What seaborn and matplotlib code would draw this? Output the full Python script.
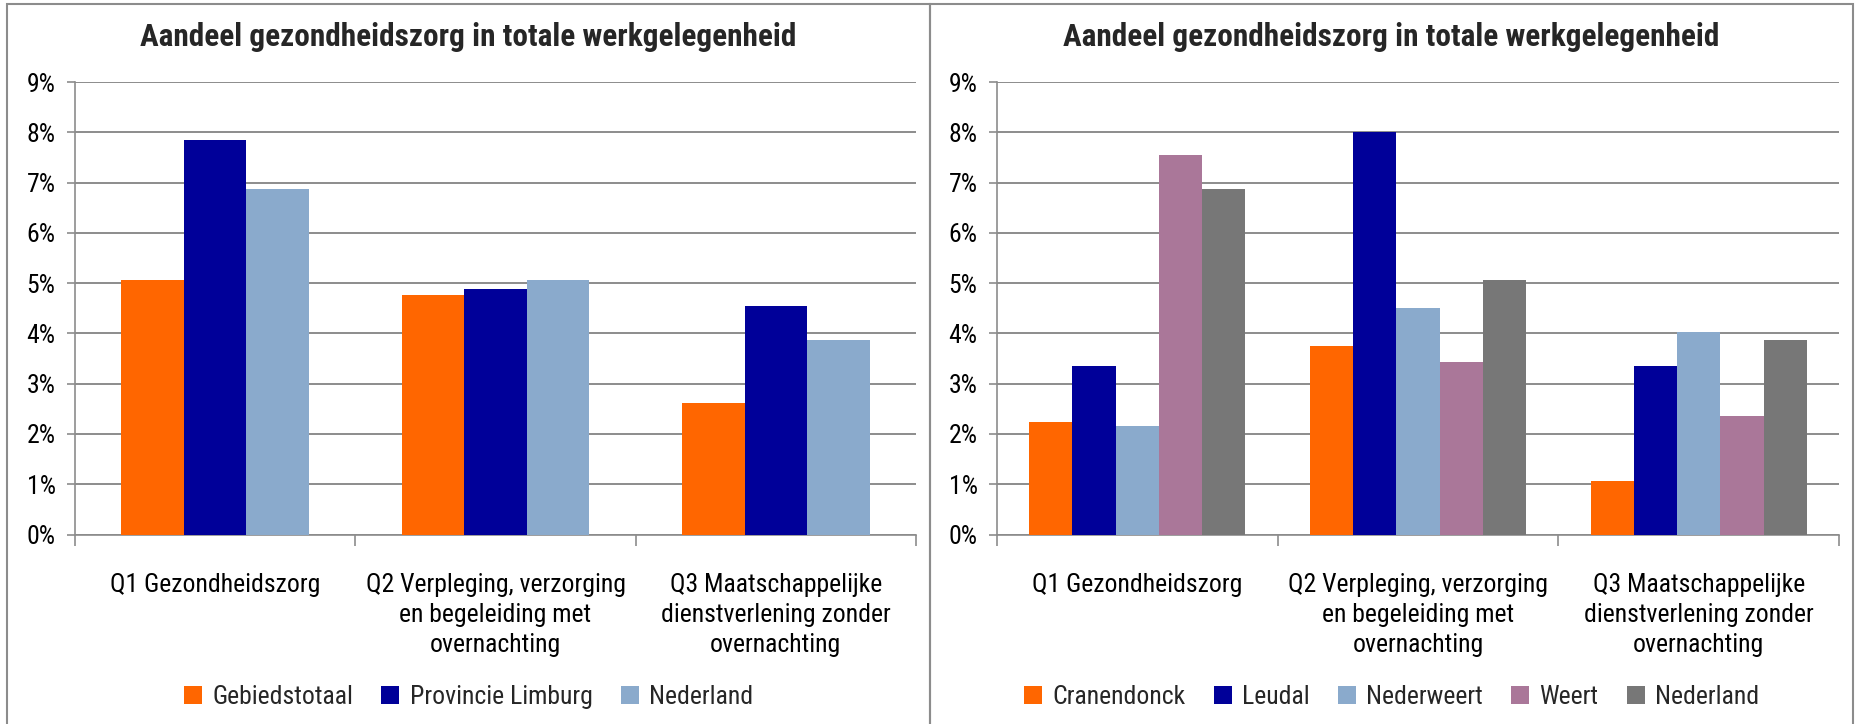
import matplotlib.pyplot as plt
import seaborn as sns
import pandas as pd
from matplotlib.patches import Rectangle
from matplotlib.ticker import PercentFormatter, FixedLocator

# Categorieen (x-as)
categorieen = [
    "Q1 Gezondheidszorg",
    "Q2 Verpleging, verzorging\nen begeleiding met\novernachting",
    "Q3 Maatschappelijke\ndienstverlening zonder\novernachting",
]

# Linker grafiek (aandeel in %)
gebiedstotaal = [5.06, 4.76, 2.61]
provincie_limburg = [7.84, 4.88, 4.55]
nederland = [6.87, 5.07, 3.87]

# Rechter grafiek (aandeel in %)
cranendonck = [2.24, 3.74, 1.07]
leudal = [3.35, 8.00, 3.35]
nederweert = [2.16, 4.51, 4.03]
weert = [7.54, 3.44, 2.36]

titel = "Aandeel gezondheidszorg in totale werkgelegenheid"

ORANJE = "#FF6600"
DONKERBLAUW = "#000099"
LICHTBLAUW = "#8AAACC"
PAARS = "#AA7799"
GRIJS = "#777777"
LIJN = "#8C8C8C"

sns.set_theme(style="white")
plt.rcParams["font.family"] = ["Roboto Condensed", "Liberation Sans Narrow", "Lato", "DejaVu Sans"]

W, H = 1857, 724
fig = plt.figure(figsize=(W / 100, H / 100), dpi=100)


def maak_df(reeksen):
    rijen = []
    for naam, waarden in reeksen:
        for cat, w in zip(categorieen, waarden):
            rijen.append({"Categorie": cat, "Reeks": naam, "Aandeel": w})
    return pd.DataFrame(rijen)


def teken_paneel(rect, paneel_x, reeksen, kleuren, breedte):
    ax = fig.add_axes(rect)
    df = maak_df(reeksen)
    sns.barplot(
        data=df, x="Categorie", y="Aandeel", hue="Reeks",
        order=categorieen, hue_order=[r[0] for r in reeksen],
        palette=kleuren, width=breedte, saturation=1,
        linewidth=0, ax=ax, legend=True, zorder=3,
    )
    ax.set_xlim(-0.5, 2.5)
    ax.set_ylim(0, 9)
    ax.yaxis.set_major_locator(FixedLocator(range(0, 10)))
    ax.yaxis.set_major_formatter(PercentFormatter(decimals=0))
    ax.grid(axis="y", color=LIJN, linewidth=1.4, zorder=0)
    ax.set_axisbelow(True)
    ax.set_xlabel("")
    ax.set_ylabel("")
    for s in ["top", "right"]:
        ax.spines[s].set_visible(False)
    for s in ["left", "bottom"]:
        ax.spines[s].set_color(LIJN)
        ax.spines[s].set_linewidth(1.2)
    ax.tick_params(axis="y", which="major", left=True, length=6, width=1.2,
                   color=LIJN, labelsize=18.5, pad=8, labelcolor="black")
    ax.tick_params(axis="x", which="major", bottom=False, labelsize=18.5,
                   pad=22, labelcolor="black")
    ax.set_xticks([-0.5, 0.5, 1.5, 2.5], minor=True)
    ax.tick_params(axis="x", which="minor", bottom=True, length=8, width=1.2,
                   color=LIJN)
    for lbl in ax.get_xticklabels():
        lbl.set_linespacing(1.3)

    handles, labels = ax.get_legend_handles_labels()
    ax.legend_.remove()
    fig.legend(handles, labels, loc="center", ncol=len(labels),
               bbox_to_anchor=((paneel_x[0] + paneel_x[1]) / 2 / W, 1 - 697 / H),
               frameon=False, fontsize=18.5, handlelength=0.7, handleheight=0.7,
               handletextpad=0.4, columnspacing=1.1)

    fig.text((paneel_x[0] + paneel_x[1]) / 2 / W, 1 - 37 / H, titel,
             ha="center", va="center", fontsize=22.5, fontweight="bold")

    fig.add_artist(Rectangle((paneel_x[0] / W, -0.01),
                             (paneel_x[1] - paneel_x[0]) / W, (H - 4) / H + 0.01,
                             transform=fig.transFigure, fill=False,
                             edgecolor=LIJN, linewidth=1.5))
    return ax


onder = 1 - 534.5 / H
hoogte = 452.5 / H

teken_paneel([75 / W, onder, 841 / W, hoogte], (7, 930),
             [("Gebiedstotaal", gebiedstotaal),
              ("Provincie Limburg", provincie_limburg),
              ("Nederland", nederland)],
             [ORANJE, DONKERBLAUW, LICHTBLAUW], 0.67)

teken_paneel([997 / W, onder, 842 / W, hoogte], (930, 1853),
             [("Cranendonck", cranendonck),
              ("Leudal", leudal),
              ("Nederweert", nederweert),
              ("Weert", weert),
              ("Nederland", nederland)],
             [ORANJE, DONKERBLAUW, LICHTBLAUW, PAARS, GRIJS], 0.77)

fig.savefig("out.png", dpi=100)
